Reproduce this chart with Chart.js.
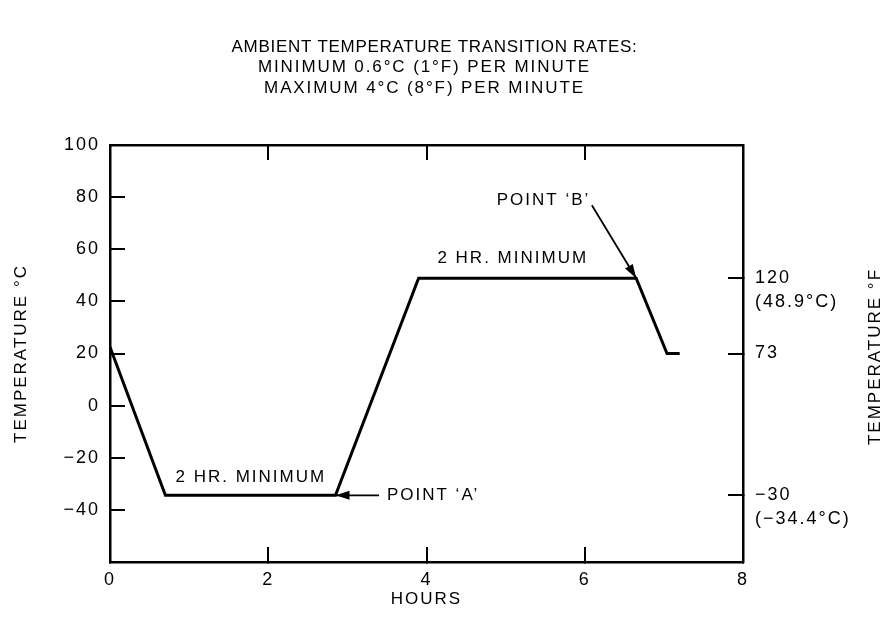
<!DOCTYPE html>
<html>
<head>
<meta charset="utf-8">
<script src="https://cdn.jsdelivr.net/npm/chart.js@4.4.1/dist/chart.umd.min.js"></script>
<style>
  html, body { margin: 0; padding: 0; background: #fff; }
  #wrap { width: 886px; height: 641px; }
</style>
</head>
<body>
<div id="wrap"><canvas id="chart"></canvas></div>
<script>
// texts and values
const titleLines = [
  'AMBIENT TEMPERATURE TRANSITION RATES:',
  'MINIMUM 0.6°C (1°F) PER MINUTE',
  'MAXIMUM 4°C (8°F) PER MINUTE'
];
const hours = [0, 0.7, 2.85, 3.9, 6.65, 7.04, 7.2];
const tempC = [22.5, -34.4, -34.4, 48.9, 48.9, 20, 20];
// °F marks on the right, placed at their °C value
const fTickC = [48.9, 20, -34.4];
const fTickLabels = [['', '120', '(48.9°C)'], ['73'], ['', '\u221230', '(\u221234.4°C)']];
const holdNotes = [
  { text: '2 HR. MINIMUM', x: 1.78, y: -27.4 },
  { text: '2 HR. MINIMUM', x: 5.09, y: 56.6 }
];
const pointNotes = [
  { text: 'POINT \u2018A\u2019', tx: 3.50, ty: -34.4, align: 'left', from: [3.40, -34.4], to: [2.85, -34.4] },
  { text: 'POINT \u2018B\u2019', tx: 6.07, ty: 78.6, align: 'right', from: [6.09, 76.9], to: [6.65, 48.9] }
];

const FONT = '"Liberation Sans", Arial, Helvetica, sans-serif';
Chart.defaults.font.family = FONT;
Chart.defaults.font.size = 18;
Chart.defaults.color = '#000';

// the old typeset labels are widely tracked
function setSpacing(chart) { chart.ctx.letterSpacing = '2px'; }
const spacingPlugin = {
  id: 'spacing',
  beforeUpdate: setSpacing,
  beforeLayout: setSpacing,
  beforeDraw: setSpacing
};

function arrowHead(ctx, x1, y1, x2, y2) {
  const a = Math.atan2(y2 - y1, x2 - x1);
  const len = 14, half = 4.5;
  ctx.beginPath();
  ctx.moveTo(x2, y2);
  ctx.lineTo(x2 - len * Math.cos(a) + half * Math.sin(a), y2 - len * Math.sin(a) - half * Math.cos(a));
  ctx.lineTo(x2 - len * Math.cos(a) - half * Math.sin(a), y2 - len * Math.sin(a) + half * Math.cos(a));
  ctx.closePath();
  ctx.fill();
}

const notesPlugin = {
  id: 'notes',
  afterDatasetsDraw(chart) {
    const ctx = chart.ctx;
    const xs = chart.scales.x, ys = chart.scales.y;
    const area = chart.chartArea;
    ctx.save();
    ctx.fillStyle = '#000';
    ctx.strokeStyle = '#000';
    ctx.font = '17px ' + FONT;
    ctx.textBaseline = 'middle';
    ctx.textAlign = 'center';

    // heading, centred over the plot (first line sits a little to the right)
    const cx = (area.left + area.right) / 2 - 2;
    titleLines.forEach((t, i) => {
      ctx.letterSpacing = i === 0 ? '0.7px' : '1.9px';
      ctx.fillText(t, i === 0 ? cx + 10 : cx, 47 + i * 20.7);
    });

    ctx.letterSpacing = '2px';
    holdNotes.forEach(n => {
      ctx.fillText(n.text, xs.getPixelForValue(n.x), ys.getPixelForValue(n.y));
    });
    pointNotes.forEach(n => {
      ctx.textAlign = n.align;
      ctx.fillText(n.text, xs.getPixelForValue(n.tx), ys.getPixelForValue(n.ty));
      const x1 = xs.getPixelForValue(n.from[0]), y1 = ys.getPixelForValue(n.from[1]);
      const x2 = xs.getPixelForValue(n.to[0]), y2 = ys.getPixelForValue(n.to[1]);
      ctx.lineWidth = 1.8;
      ctx.beginPath();
      ctx.moveTo(x1, y1);
      ctx.lineTo(x2, y2);
      ctx.stroke();
      arrowHead(ctx, x1, y1, x2, y2);
    });
    // right axis title reads bottom to top like the left one
    ctx.translate(875, (ys.top + ys.bottom) / 2 + 3);
    ctx.rotate(-Math.PI / 2);
    ctx.textAlign = 'center';
    ctx.fillText('TEMPERATURE °F', 0, 0);
    ctx.restore();
  }
};

const inwardGrid = { drawOnChartArea: false, drawTicks: true, tickLength: -15, color: '#000', lineWidth: 2 };
const frame = { display: true, color: '#000', width: 2.5 };
const minus = v => String(v).replace('-', '\u2212');

new Chart(document.getElementById('chart'), {
  type: 'line',
  data: {
    datasets: [{
      data: hours.map((h, i) => ({ x: h, y: tempC[i] })),
      borderColor: '#000',
      borderWidth: 3,
      pointRadius: 0,
      tension: 0,
      fill: false
    }]
  },
  options: {
    responsive: true,
    maintainAspectRatio: false,
    animation: false,
    events: [],
    layout: { padding: { top: 145, left: 0, right: 0, bottom: 0 } },
    plugins: {
      legend: { display: false },
      tooltip: { enabled: false },
      title: { display: false }
    },
    scales: {
      x: {
        type: 'linear', position: 'bottom', min: 0, max: 8,
        ticks: { stepSize: 2, padding: 22, callback: v => v },
        grid: inwardGrid, border: frame,
        title: { display: true, text: 'HOURS', font: { size: 17 }, padding: { top: 0, bottom: 31 } },
        afterFit: s => { s.height = 79; }
      },
      xTop: {
        type: 'linear', position: 'top', min: 0, max: 8,
        ticks: { stepSize: 2, display: false },
        grid: inwardGrid, border: frame,
        afterFit: s => { s.height = 0; }
      },
      y: {
        type: 'linear', position: 'left', min: -60, max: 100,
        ticks: { stepSize: 20, padding: 25, callback: v => (v === -60 ? '' : minus(v)) },
        grid: inwardGrid, border: frame,
        title: { display: true, text: 'TEMPERATURE °C', font: { size: 17 }, padding: { top: 11, bottom: 0 } },
        afterFit: s => { s.width = 110; }
      },
      y2: {
        type: 'linear', position: 'right', min: -60, max: 100,
        afterBuildTicks: s => { s.ticks = fTickC.map(v => ({ value: v })); },
        ticks: { padding: 27, font: { lineHeight: 1.33 }, callback: (v, i) => fTickLabels[i] },
        grid: inwardGrid, border: frame,
        afterFit: s => { s.width = 143; }
      }
    }
  },
  plugins: [spacingPlugin, notesPlugin]
});
</script>
</body>
</html>
